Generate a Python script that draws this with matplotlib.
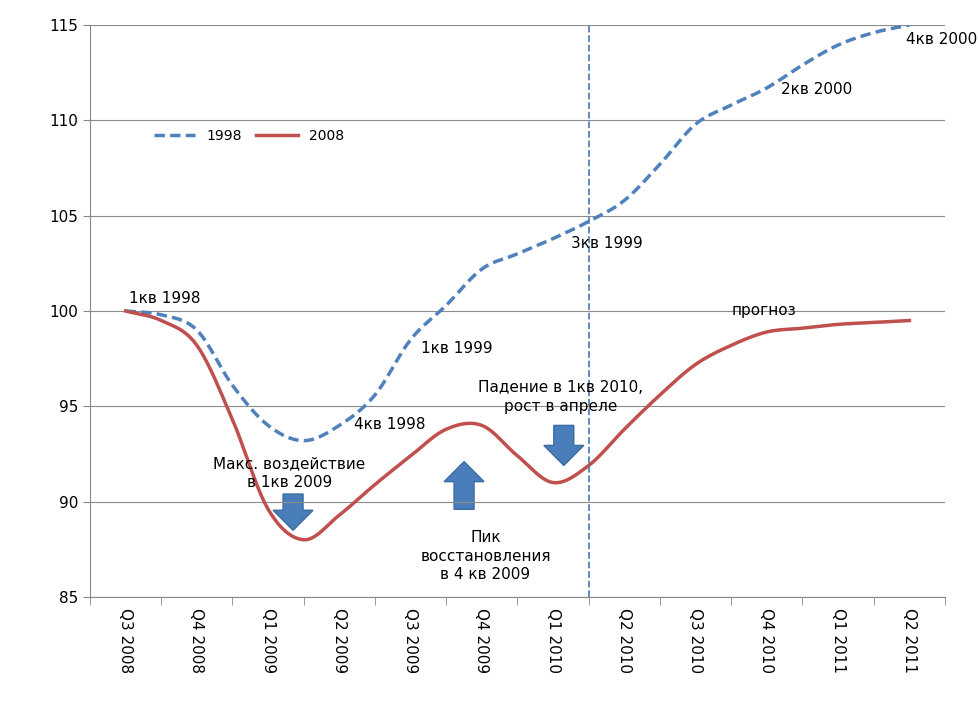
import matplotlib
matplotlib.use('Agg')
import matplotlib.pyplot as plt
import numpy as np

quarters = ['Q3 2008', 'Q4 2008', 'Q1 2009', 'Q2 2009', 'Q3 2009', 'Q4 2009',
            'Q1 2010', 'Q2 2010', 'Q3 2010', 'Q4 2010', 'Q1 2011', 'Q2 2011']
# values read at every half quarter
s1998 = [100, 99.8, 99.0, 96.1, 94.0, 93.2, 94.0, 95.6, 98.5, 100.3, 102.2, 103.0,
         103.8, 104.7, 105.8, 107.7, 109.8, 110.8, 111.7, 112.9, 113.95, 114.6, 115.0]
s2008 = [100, 99.5, 98.2, 94.3, 89.6, 88.0, 89.3, 90.9, 92.4, 93.8, 94.0, 92.4,
         91.0, 91.9, 93.8, 95.6, 97.2, 98.2, 98.9, 99.1, 99.3, 99.4, 99.5]
xs = np.arange(len(s1998)) / 2.0


def smooth(x, y, n=10):
    # Catmull-Rom through the read points
    x = np.asarray(x, float); y = np.asarray(y, float)
    px = np.concatenate([[2 * x[0] - x[1]], x, [2 * x[-1] - x[-2]]])
    py = np.concatenate([[2 * y[0] - y[1]], y, [2 * y[-1] - y[-2]]])
    ox, oy = [], []
    t = np.linspace(0, 1, n, endpoint=False)
    for i in range(1, len(px) - 2):
        for arr, out in ((px, ox), (py, oy)):
            p0, p1, p2, p3 = arr[i - 1:i + 3]
            out.extend(0.5 * (2 * p1 + (-p0 + p2) * t + (2 * p0 - 5 * p1 + 4 * p2 - p3) * t ** 2
                              + (-p0 + 3 * p1 - 3 * p2 + p3) * t ** 3))
    ox.append(x[-1]); oy.append(y[-1])
    return ox, oy


fig = plt.figure(figsize=(9.79, 7.10), dpi=100)
ax = fig.add_axes([90 / 979, 113 / 710, 855 / 979, 572 / 710])

blue = '#4f81bd'
red = '#c0504d'
ax.plot(*smooth(xs, s1998), color=blue, lw=2.5, ls=(0, (3, 1.5)), label='1998')
ax.plot(*smooth(xs, s2008), color=red, lw=2.5, label='2008')

ax.set_xlim(-0.5, 11.5)
ax.set_ylim(85, 115)
ax.set_yticks(range(85, 116, 5))
ax.set_xticks(range(12))
ax.set_xticklabels(quarters, rotation=-90, fontsize=11)
ax.set_xticks(np.arange(-0.5, 12, 1), minor=True)
ax.tick_params(axis='x', which='major', length=0, pad=8)
ax.tick_params(axis='x', which='minor', length=6, color='#888888')
ax.tick_params(axis='y', labelsize=11, length=5, color='#888888')
ax.grid(axis='y', color='#8c8c8c', lw=0.8)
for s in ['top', 'right']:
    ax.spines[s].set_visible(False)
for s in ['left', 'bottom']:
    ax.spines[s].set_color('#888888')

ax.axvline(6.5, color=blue, ls='--', lw=1.3)

ax.legend(loc='upper left', bbox_to_anchor=(0.06, 0.84), ncol=2, frameon=False,
          fontsize=10, handlelength=3, columnspacing=1)

fs = 11
ax.text(0.05, 100.4, '1кв 1998', fontsize=fs)
ax.text(3.2, 93.8, '4кв 1998', fontsize=fs)
ax.text(4.15, 97.8, '1кв 1999', fontsize=fs)
ax.text(6.25, 103.3, '3кв 1999', fontsize=fs)
ax.text(9.2, 111.4, '2кв 2000', fontsize=fs)
ax.text(10.95, 114.0, '4кв 2000', fontsize=fs)
ax.text(8.5, 99.8, 'прогноз', fontsize=fs)
ax.text(2.3, 90.6, 'Макс. воздействие\nв 1кв 2009', fontsize=fs, ha='center', va='bottom',
        linespacing=1.3)
ax.text(5.05, 88.5, 'Пик\nвосстановления\nв 4 кв 2009', fontsize=fs, ha='center', va='top',
        linespacing=1.3)
ax.text(6.1, 94.6, 'Падение в 1кв 2010,\nрост в апреле', fontsize=fs, ha='center', va='bottom',
        linespacing=1.3)

akw = dict(width=0.28, head_width=0.56, head_length=1.05, length_includes_head=True,
           color='#4a7ebb', ec='#3a6a9f', lw=1)
ax.arrow(2.35, 90.4, 0, -1.9, **akw)
ax.arrow(4.75, 89.6, 0, 2.5, **akw)
ax.arrow(6.15, 94.0, 0, -2.1, **akw)

fig.savefig('out.png', dpi=100)
